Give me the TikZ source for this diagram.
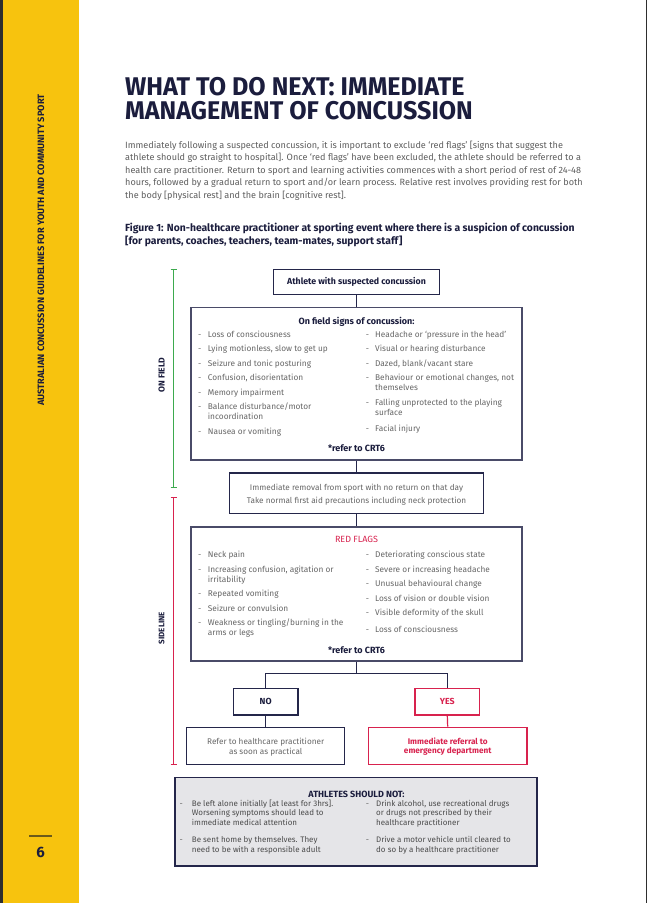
\documentclass[tikz,border=0pt]{standalone}
\usepackage{fontspec}
\setmainfont{Fira Sans}
\usepackage{graphicx}
\definecolor{yel}{HTML}{F7C30E}
\definecolor{strip}{HTML}{2E2E2E}
\definecolor{navy}{HTML}{1B1D3D}
\definecolor{bodygray}{HTML}{5E5E5E}
\definecolor{itemgray}{HTML}{666666}
\definecolor{boxline}{HTML}{4A4B68}
\definecolor{darkline}{HTML}{24264A}
\definecolor{flagred}{HTML}{D8224E}
\definecolor{fieldgreen}{HTML}{3DAA4E}
\definecolor{notfill}{HTML}{E5E5E8}
\definecolor{pageline}{HTML}{6B5A1A}
\tikzset{
  bodytext/.style={anchor=mid west, inner sep=0pt, text=bodygray, font=\fontsize{9.1}{10}\selectfont},
  captext/.style={anchor=mid west, inner sep=0pt, text=navy, font=\fontsize{10.35}{11}\selectfont\bfseries},
  titletext/.style={anchor=base west, inner sep=0pt, text=navy, font=\fontsize{25.6}{26}\selectfont\bfseries},
  item/.style={anchor=mid west, inner sep=0pt, text=itemgray, font=\fontsize{8.3}{9}\selectfont},
  notitem/.style={anchor=mid west, inner sep=0pt, text=bodygray!80!black, font=\fontsize{8}{9}\selectfont},
  dashmark/.style={anchor=mid west, inner sep=0pt, text=itemgray, font=\fontsize{8}{9}\selectfont},
  headtext/.style={inner sep=0pt, text=navy, font=\fontsize{9}{10}\selectfont\bfseries},
  centertext/.style={inner sep=0pt, text=itemgray, font=\fontsize{8.2}{9}\selectfont},
  bigbox/.style={draw=boxline, line width=1.2pt, inner sep=0pt},
  smallbox/.style={draw=darkline, line width=1.2pt, inner sep=0pt},
  redbox/.style={draw=flagred, line width=1.2pt, inner sep=0pt},
  conn/.style={draw=darkline, line width=1.2pt},
  sidelabel/.style={rotate=90, inner sep=0pt, text=navy, font=\fontsize{8}{9}\selectfont\bfseries},
}
\begin{document}
\begin{tikzpicture}[x=1pt,y=-1pt]
\useasboundingbox (0,0) rectangle (647,903);
\fill[white] (0,0) rectangle (647,903);
% side band
\fill[yel] (0,0) rectangle (79,903);
\fill[strip] (0,0) rectangle (3,903);
\draw[strip, line width=1.2pt] (646.4,0) -- (646.4,903);
\node[rotate=90, inner sep=0pt, text=navy, font=\fontsize{9.2}{10}\selectfont\bfseries] (sidetitle) at (41,250) {AUSTRALIAN CONCUSSION GUIDELINES FOR YOUTH AND COMMUNITY SPORT};
\draw[pageline, line width=1.5pt] (29,836) -- (52,836);
\node[inner sep=0pt, text=navy, font=\fontsize{15}{15}\selectfont\bfseries] (pagenum) at (40.5,852.5) {6};

% title
\node[titletext] (title1) at (125,95) {\scalebox{0.98}[1]{WHAT TO DO NEXT: IMMEDIATE}};
\node[titletext] (title2) at (125,119.3) {\scalebox{0.98}[1]{MANAGEMENT OF CONCUSSION}};

% paragraph
\node[bodytext] (p1) at (125,145.5) {Immediately following a suspected concussion, it is important to exclude `red flags' [signs that suggest the};
\node[bodytext] (p2) at (125,158) {athlete should go straight to hospital]. Once `red flags' have been excluded, the athlete should be referred to a};
\node[bodytext] (p3) at (125,170.5) {health care practitioner. Return to sport and learning activities commences with a short period of rest of 24-48};
\node[bodytext] (p4) at (125,183) {hours, followed by a gradual return to sport and/or learn process. Relative rest involves providing rest for both};
\node[bodytext] (p5) at (125,195.5) {the body [physical rest] and the brain [cognitive rest].};

\node[captext] (cap1) at (125,229) {Figure 1: Non-healthcare practitioner at sporting event where there is a suspicion of concussion};
\node[captext] (cap2) at (125,241.5) {[for parents, coaches, teachers, team-mates, support staff]};

% brackets
\draw[fieldgreen, line width=1pt] (170.7,269.3) -- (176.7,269.3) (173.7,269.3) -- (173.7,487.3) (170.7,487.3) -- (176.7,487.3);
\draw[flagred, line width=1pt] (170.7,497.3) -- (176.7,497.3) (173.7,497.3) -- (173.7,764.3) (170.7,764.3) -- (176.7,764.3);
\node[sidelabel, font=\fontsize{8.6}{9}\selectfont\bfseries] (onfieldlabel) at (161.7,375) {ON FIELD};
\node[sidelabel] (sidelinelabel) at (161.7,628) {SIDELINE};

% boxes
\node[smallbox, minimum width=165.6pt, minimum height=25.4pt, text=navy, font=\fontsize{8.8}{10}\selectfont\bfseries] (athlete) at (356.5,282) {Athlete with suspected concussion};
\node[bigbox, minimum width=331pt, minimum height=152.3pt] (onfield) at (356.5,383.85) {};
\node[smallbox, minimum width=253.4pt, minimum height=40.7pt] (removal) at (356.5,493.35) {};
\node[bigbox, minimum width=331pt, minimum height=134pt] (redflags) at (356.5,594) {};
\node[smallbox, minimum width=64.7pt, minimum height=26.7pt, text=navy, font=\fontsize{8.8}{10}\selectfont\bfseries] (no) at (265.7,701.7) {NO};
\node[redbox, minimum width=64.7pt, minimum height=26.7pt, text=flagred, font=\fontsize{8.8}{10}\selectfont\bfseries] (yes) at (447.3,701.7) {YES};
\node[smallbox, minimum width=158pt, minimum height=37.4pt] (refer) at (265.7,746) {};
\node[redbox, minimum width=158.7pt, minimum height=37.4pt] (emerg) at (447.7,746) {};
\node[draw=darkline, fill=notfill, line width=1.6pt, inner sep=0pt, minimum width=361.7pt, minimum height=88.7pt] (notbox) at (355.85,821.65) {};

% connectors
\coordinate (split) at (356.5,673.5);
\draw[conn] (athlete.south) -- (onfield.north);
\draw[conn] (onfield.south) -- (removal.north);
\draw[conn] (removal.south) -- (redflags.north);
\draw[conn] (redflags.south) -- (split);
\draw[conn] (split) -| (no.north);
\draw[conn] (split) -| (yes.north);
\draw[conn] (no.south) -- (refer.north);
\draw[draw=flagred, line width=1.2pt] (yes.south) -- (emerg.north);

% on-field content
\node[headtext] (ofhead) at (356.5,322) {On field signs of concussion:};
\foreach \yy in {334.7,349.3,364,378,393,407,432} \node[dashmark] at (198,\yy) {-};
\foreach \yy/\txt [count=\k] in {334.7/{Loss of consciousness},349.3/{Lying motionless, slow to get up},364/{Seizure and tonic posturing},378/{Confusion, disorientation},393/{Memory impairment},407/{Balance disturbance/motor},416.7/{incoordination},432/{Nausea or vomiting}}
  \node[item] (ofl\k) at (207.7,\yy) {\txt};
\foreach \yy in {334.7,349.3,364,378,403,429} \node[dashmark] at (365.7,\yy) {-};
\foreach \yy/\txt [count=\k] in {334.7/{Headache or `pressure in the head'},349.3/{Visual or hearing disturbance},364/{Dazed, blank/vacant stare},378/{Behaviour or emotional changes, not},388/{themselves},403/{Falling unprotected to the playing},413/{surface},429/{Facial injury}}
  \node[item] (ofr\k) at (375,\yy) {\txt};
\node[headtext] (ofcrt) at (356.5,447.7) {*refer to CRT6};

% removal content
\node[centertext] (rem1) at (356.5,488) {Immediate removal from sport with no return on that day};
\node[centertext] (rem2) at (356.5,501) {Take normal first aid precautions including neck protection};

% red flags content
\node[headtext, text=flagred, font=\fontsize{9}{10}\selectfont] (rfhead) at (356.5,539.7) {RED FLAGS};
\foreach \yy in {555,570,594,609,623} \node[dashmark] at (198,\yy) {-};
\foreach \yy/\txt [count=\k] in {555/{Neck pain},570/{Increasing confusion, agitation or},580/{irritability},594/{Repeated vomiting},609/{Seizure or convulsion},623/{Weakness or tingling/burning in the},633/{arms or legs}}
  \node[item] (rfl\k) at (207.7,\yy) {\txt};
\foreach \yy in {555,570,584,599,613,630} \node[dashmark] at (365.7,\yy) {-};
\foreach \yy/\txt [count=\k] in {555/{Deteriorating conscious state},570/{Severe or increasing headache},584/{Unusual behavioural change},599/{Loss of vision or double vision},613/{Visible deformity of the skull},630/{Loss of consciousness}}
  \node[item] (rfr\k) at (375,\yy) {\txt};
\node[headtext] (rfcrt) at (356.5,649.7) {*refer to CRT6};

% outcome texts
\node[centertext] (ref1) at (265.7,741.7) {Refer to healthcare practitioner};
\node[centertext] (ref2) at (265.7,751.7) {as soon as practical};
\node[centertext, text=flagred, font=\fontsize{8.2}{9}\selectfont\bfseries] (em1) at (447.7,741.7) {Immediate referral to};
\node[centertext, text=flagred, font=\fontsize{8.2}{9}\selectfont\bfseries] (em2) at (447.7,751.7) {emergency department};

% athletes should not
\node[headtext] (nothead) at (356.5,794) {ATHLETES SHOULD NOT:};
\foreach \yy in {803.7,840} \node[dashmark] at (179.5,\yy) {-};
\foreach \yy/\txt [count=\k] in {803.7/{Be left alone initially [at least for 3hrs].},813.3/{Worsening symptoms should lead to},822.7/{immediate medical attention},840/{Be sent home by themselves. They},849.7/{need to be with a responsible adult}}
  \node[notitem] (nl\k) at (191.7,\yy) {\txt};
\foreach \yy in {803.7,840} \node[dashmark] at (365.7,\yy) {-};
\foreach \yy/\txt [count=\k] in {803.7/{Drink alcohol, use recreational drugs},813.3/{or drugs not prescribed by their},822.7/{healthcare practitioner},840/{Drive a motor vehicle until cleared to},849.7/{do so by a healthcare practitioner}}
  \node[notitem] (nr\k) at (376,\yy) {\txt};
\end{tikzpicture}
\end{document}
